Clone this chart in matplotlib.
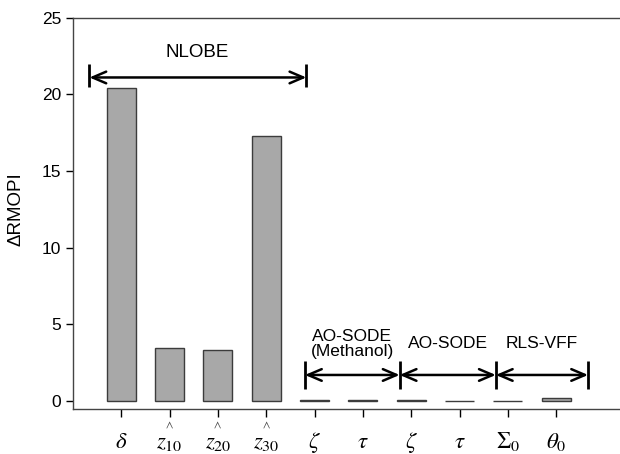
import matplotlib

matplotlib.use("Agg")
import matplotlib.pyplot as plt
import matplotlib.transforms as mtransforms

# 数据：每个参数的 ΔRMOPI 值
params = ["delta", "z10", "z20", "z30", "zeta_m", "tau_m", "zeta", "tau", "Sigma0", "theta0"]
delta_rmopi = [20.4, 3.43, 3.32, 17.27, 0.05, 0.08, 0.05, 0.02, 0.03, 0.17]
tick_labels = [
    r"$\delta$", r"$z_{10}$", r"$z_{20}$", r"$z_{30}$", r"$\zeta$",
    r"$\tau$", r"$\zeta$", r"$\tau$", r"$\Sigma_{0}$", r"$\theta_{0}$",
]
# 估计量的帽子符号（画在标签上方，与字母之间留空）
hat_marks = ["", r"$\wedge$", r"$\wedge$", r"$\wedge$", "", "", "", "", "", ""]
group_names = ["NLOBE", "AO-SODE\n(Methanol)", "AO-SODE", "RLS-VFF"]

plt.rcParams["font.family"] = ["Liberation Sans", "DejaVu Sans"]
plt.rcParams["mathtext.fontset"] = "stix"

fig = plt.figure(figsize=(6.2, 4.54), dpi=100)
ax = fig.add_axes([0.1177, 0.0991, 0.8823, 0.862])

x = list(range(len(params)))
ax.bar(x, delta_rmopi, width=0.6, color="#a8a8a8", edgecolor="#3c3c3c", linewidth=1.0)

ax.set_xlim(-1.0, 10.32)
ax.set_ylim(-0.52, 25)
ax.set_yticks([0, 5, 10, 15, 20, 25])
ax.tick_params(axis="y", labelsize=12.5, length=5, width=1, direction="out")
ax.set_xticks(x)
ax.set_xticklabels(tick_labels, fontsize=16.5)
ax.tick_params(axis="x", length=6, width=1, direction="out", pad=9)
ax.set_ylabel("ΔRMOPI", fontsize=13.5)
ax.yaxis.set_label_coords(-0.088, 0.51)

for side in ["left", "top", "bottom"]:
    ax.spines[side].set_color("#444444")
    ax.spines[side].set_linewidth(1.0)
ax.spines["right"].set_visible(False)

trans = mtransforms.blended_transform_factory(ax.transData, ax.transAxes)
for xi, mark in zip(x, hat_marks):
    if mark:
        ax.text(xi, -0.041, mark, transform=trans, ha="center", va="center",
                fontsize=8.5, color="#444444")

arrow_props = dict(arrowstyle="<->, head_length=0.7, head_width=0.3",
                   lw=1.8, color="black", shrinkA=0, shrinkB=0, mutation_scale=14)

# NLOBE 分组括号
ax.annotate("", xy=(-0.66, 21.1), xytext=(3.83, 21.1), arrowprops=arrow_props)
ax.vlines([-0.66, 3.83], 20.5, 22.0, colors="black", lw=2)
ax.text(1.58, 22.75, group_names[0], ha="center", va="center", fontsize=13.5)

# 下方三个方法分组
edges = [3.8, 5.76, 7.75, 9.66]
for i in range(3):
    ax.annotate("", xy=(edges[i], 1.7), xytext=(edges[i + 1], 1.7), arrowprops=arrow_props)
ax.vlines(edges, 0.8, 2.6, colors="black", lw=2)
for i in range(3):
    ax.text((edges[i] + edges[i + 1]) / 2, 3.72, group_names[i + 1], ha="center",
            va="center", fontsize=12.5, linespacing=1.0)

fig.savefig("out.png", dpi=100)
